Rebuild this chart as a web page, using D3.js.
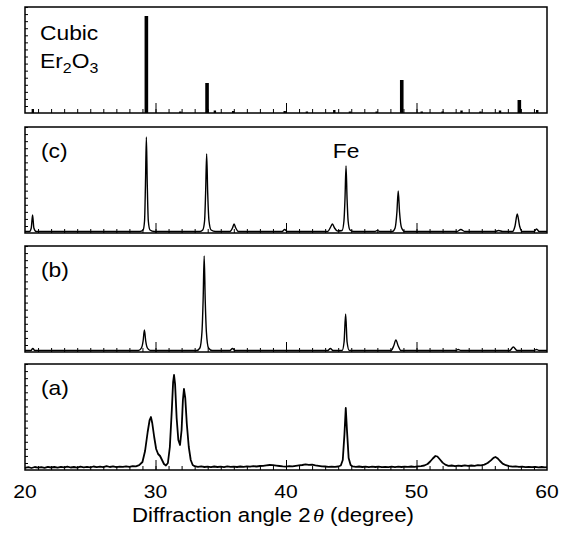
<!DOCTYPE html>
<html>
<head>
<meta charset="utf-8">
<script src="https://cdn.jsdelivr.net/npm/d3@7"></script>
<style>
  body { margin: 0; background: #fff; }
  svg { display: block; }
  text { font-family: "Liberation Sans", Arial, sans-serif; fill: #000; }
</style>
</head>
<body>
<svg id="chart" width="561" height="542"></svg>
<script>
// ---------------- data ----------------
const xTickLabels = [20, 30, 40, 50, 60];
const panelNames = ["Er2O3", "(c)", "(b)", "(a)"];

// Cubic Er2O3 reference sticks: [2theta, intensity]
const er2o3Sticks = [
  [20.6, 4], [29.3, 97], [31.9, 1.5], [33.95, 30], [34.55, 2.5], [35.95, 2],
  [39.9, 2], [41.6, 1.5], [43.7, 3], [44.9, 1.5], [46.95, 1.5], [48.87, 33],
  [50.4, 1.5], [52.0, 1.5], [53.45, 2.5], [54.9, 1.5], [56.4, 2.5], [57.88, 13],
  [59.25, 3]
];

// Pattern (c)
const curveC = [
  [20.0, 1.5], [20.35, 1.5], [20.48, 5], [20.58, 18], [20.68, 5], [20.85, 1.5],
  [28.8, 1.5], [29.05, 3], [29.16, 12], [29.23, 48], [29.3, 96], [29.37, 48], [29.45, 12], [29.58, 3], [29.9, 1.5],
  [33.4, 1.5], [33.62, 3], [33.76, 12], [33.84, 40], [33.92, 79], [34.0, 40], [34.1, 12], [34.26, 3], [34.6, 1.5],
  [35.7, 1.5], [35.9, 5], [36.02, 9], [36.15, 5], [36.35, 1.5],
  [39.7, 1.5], [39.9, 3.5], [40.1, 1.5],
  [43.2, 1.5], [43.42, 6], [43.56, 9], [43.72, 5], [43.95, 2], [44.3, 2.5],
  [44.44, 12], [44.52, 34], [44.6, 67], [44.68, 34], [44.76, 12], [44.9, 3], [45.2, 1.5],
  [46.8, 1.5], [47.0, 2.5], [47.2, 1.5],
  [48.15, 1.5], [48.36, 5], [48.5, 21], [48.6, 42], [48.7, 21], [48.86, 5], [49.1, 1.5],
  [53.1, 1.5], [53.4, 3.5], [53.7, 1.5],
  [56.0, 1.5], [56.3, 2.5], [56.6, 1.5],
  [57.35, 1.5], [57.55, 7], [57.72, 19], [57.9, 7], [58.1, 1.5],
  [59.0, 1.5], [59.2, 4], [59.4, 1.5], [60.0, 1.5]
];

// Pattern (b)
const curveB = [
  [20.0, 1.5], [20.45, 1.5], [20.6, 3.5], [20.75, 1.5],
  [28.7, 1.5], [28.92, 4], [29.05, 11], [29.15, 22], [29.25, 11], [29.38, 4], [29.6, 1.5],
  [33.15, 1.5], [33.4, 4], [33.56, 20], [33.65, 52], [33.73, 96], [33.81, 52], [33.9, 20], [34.06, 4], [34.35, 1.5],
  [35.7, 1.5], [35.9, 3.5], [36.1, 1.5],
  [43.2, 1.5], [43.4, 3.5], [43.6, 1.5],
  [44.3, 1.5], [44.45, 10], [44.57, 38], [44.68, 10], [44.85, 1.5],
  [48.05, 1.5], [48.25, 6], [48.42, 12], [48.6, 6], [48.8, 1.5],
  [53.0, 1.5], [53.2, 2.5], [53.4, 1.5],
  [57.15, 1.5], [57.42, 5], [57.7, 1.5],
  [59.0, 1.5], [59.2, 2.5], [59.4, 1.5], [60.0, 1.5]
];

// Pattern (a)
const curveA = [
  [20.0, 2.2], [20.25, 2.8], [20.5, 2.0], [20.75, 3.0], [21.0, 2.4], [21.25, 2.9], [21.5, 2.1], [21.75, 3.2],
  [22.0, 2.5], [22.25, 3.0], [22.5, 2.3], [22.75, 3.1], [23.0, 2.6], [23.25, 3.4], [23.5, 2.5], [23.75, 3.0],
  [24.0, 2.4], [24.25, 3.3], [24.5, 2.7], [24.75, 3.2], [25.0, 2.6], [25.25, 3.5], [25.5, 2.8], [25.75, 3.3],
  [26.0, 2.9], [26.25, 3.8], [26.5, 3.0], [26.75, 3.6], [27.0, 2.9], [27.25, 3.4], [27.5, 3.1], [27.75, 3.6],
  [28.0, 3.2], [28.25, 3.9], [28.5, 3.6], [28.75, 4.8], [29.0, 8], [29.2, 19], [29.4, 38], [29.55, 50],
  [29.65, 53], [29.75, 47], [29.9, 33], [30.05, 21], [30.2, 16], [30.35, 14], [30.5, 10], [30.65, 6],
  [30.8, 4.5], [30.95, 7], [31.1, 23], [31.25, 60], [31.35, 88], [31.42, 95], [31.5, 86], [31.62, 52],
  [31.75, 30], [31.88, 25], [32.0, 40], [32.1, 70], [32.18, 81], [32.28, 72], [32.4, 46], [32.55, 23],
  [32.7, 10], [32.85, 5], [33.0, 3.8], [33.25, 3.2], [33.5, 3.6], [33.75, 3.0],
  [34.0, 3.4], [34.25, 2.8], [34.5, 3.5], [34.75, 3.0], [35.0, 3.3], [35.25, 2.9], [35.5, 3.6], [35.75, 3.1],
  [36.0, 3.4], [36.25, 3.0], [36.5, 3.5], [36.75, 3.2], [37.0, 3.6], [37.25, 3.3], [37.5, 3.8], [37.75, 3.5],
  [38.0, 4.0], [38.25, 4.2], [38.5, 4.6], [38.75, 5.0], [39.0, 4.8], [39.25, 4.4], [39.5, 4.0], [39.75, 3.6],
  [40.0, 3.4], [40.25, 3.8], [40.5, 3.6], [40.75, 4.2], [41.0, 4.6], [41.25, 5.0], [41.5, 5.6], [41.75, 5.2],
  [42.0, 5.4], [42.25, 4.6], [42.5, 4.2], [42.75, 3.6], [43.0, 3.5], [43.25, 3.2], [43.5, 3.4], [43.75, 3.1],
  [44.0, 3.5], [44.2, 4.5], [44.35, 10], [44.48, 36], [44.58, 62], [44.68, 38], [44.8, 12], [44.95, 5],
  [45.1, 3.6], [45.35, 3.2], [45.6, 3.5], [45.85, 3.0], [46.1, 3.4], [46.35, 2.9], [46.6, 3.3], [46.85, 3.0],
  [47.1, 3.4], [47.35, 2.8], [47.6, 3.2], [47.85, 2.9], [48.1, 3.3], [48.35, 2.9], [48.6, 3.4], [48.85, 3.0],
  [49.1, 3.3], [49.35, 3.1], [49.6, 3.5], [49.85, 3.2], [50.1, 3.6], [50.35, 3.9], [50.6, 4.5], [50.85, 6.0],
  [51.05, 8.5], [51.25, 11.5], [51.45, 14], [51.6, 13.5], [51.8, 10.5], [52.0, 7.4], [52.2, 5.4], [52.45, 4.2],
  [52.7, 4.5], [52.95, 3.9], [53.2, 4.4], [53.45, 4.0], [53.7, 4.6], [53.95, 4.1], [54.2, 4.5], [54.45, 4.2],
  [54.7, 4.8], [54.95, 4.6], [55.2, 5.4], [55.45, 7.0], [55.7, 9.6], [55.9, 12.2], [56.05, 13], [56.2, 11.8],
  [56.4, 9.0], [56.6, 6.4], [56.85, 4.8], [57.1, 3.8], [57.35, 3.4], [57.6, 3.6], [57.85, 3.1], [58.1, 3.4],
  [58.35, 2.9], [58.6, 3.2], [58.85, 2.8], [59.1, 3.1], [59.35, 2.6], [59.6, 3.0], [59.85, 2.6], [60.0, 2.8]
];

// ---------------- layout ----------------
const svg = d3.select("#chart");
const left = 25, right = 547;
const panelTops = [7, 127, 246, 364];
const panelH = 106;
const SX = 1.14; // horizontal stretch of glyphs seen in the reference

const x = d3.scaleLinear().domain([20, 60]).range([left, right]);

function addText(parent, tx, ty, size, anchor) {
  return parent.append("text")
    .attr("transform", `translate(${tx},${ty}) scale(${SX},1)`)
    .attr("font-size", size)
    .attr("text-anchor", anchor || "start");
}

function drawFrame(g, y) {
  const minor = d3.axisBottom(x).tickValues(d3.range(21, 60, 1)).tickSize(-4).tickFormat("");
  g.append("g").attr("transform", `translate(0,${panelH})`).call(minor)
    .call(s => s.select(".domain").remove())
    .selectAll("line").attr("stroke", "#000").attr("stroke-width", 1);
  const major = d3.axisBottom(x).tickValues([30, 40, 50]).tickSize(-10).tickFormat("");
  g.append("g").attr("transform", `translate(0,${panelH})`).call(major)
    .call(s => s.select(".domain").remove())
    .selectAll("line").attr("stroke", "#000").attr("stroke-width", 1);
  const yl = d3.axisLeft(y).tickValues(d3.range(7, 106, 7.07)).tickSize(-3).tickFormat("");
  g.append("g").attr("transform", `translate(${left},0)`).call(yl)
    .call(s => s.select(".domain").remove())
    .selectAll("line").attr("stroke", "#000").attr("stroke-width", 1);
  g.append("rect").attr("x", left).attr("y", 0).attr("width", right - left).attr("height", panelH)
    .attr("fill", "none").attr("stroke", "#000").attr("stroke-width", 1.5);
}

const curves = [null, curveC, curveB, curveA];

panelTops.forEach((top, i) => {
  const g = svg.append("g").attr("transform", `translate(0,${top})`);
  const y = d3.scaleLinear().domain([0, panelH]).range([panelH, 0]);
  if (i === 0) {
    g.append("g").selectAll("line").data(er2o3Sticks).join("line")
      .attr("x1", d => x(d[0])).attr("x2", d => x(d[0]))
      .attr("y1", y(0)).attr("y2", d => y(d[1]))
      .attr("stroke", "#000")
      .attr("stroke-width", d => d[1] > 8 ? 3.6 : 2.4);
  } else {
    const line = d3.line().x(d => x(d[0])).y(d => y(d[1]))
      .curve(i === 3 ? d3.curveLinear : d3.curveMonotoneX);
    g.append("path").datum(curves[i]).attr("d", line)
      .attr("fill", "none").attr("stroke", "#000")
      .attr("stroke-width", i === 3 ? 1.8 : 1.4).attr("stroke-linejoin", "round");
  }
  drawFrame(g, y);
  if (i === 0) {
    addText(g, 40, 33, 20).text("Cubic");
    const t = addText(g, 40, 61, 20);
    t.append("tspan").text("Er");
    t.append("tspan").attr("font-size", 14).attr("dy", 5).text("2");
    t.append("tspan").attr("dy", -5).text("O");
    t.append("tspan").attr("font-size", 14).attr("dy", 5).text("3");
  } else {
    addText(g, 41, 31, 20).text(panelNames[i]);
  }
  if (i === 1) {
    addText(g, x(44.6), 31, 20, "middle").text("Fe");
  }
});

// x tick labels
xTickLabels.forEach(d => {
  addText(svg, x(d), 498, 18.5, "middle").text(d);
});

// x axis title
const title = addText(svg, 273, 522, 19.5, "middle");
title.append("tspan").text("Diffraction angle 2");
title.append("tspan").attr("font-family", "'Liberation Serif', 'DejaVu Serif', serif")
  .attr("font-style", "italic").attr("dx", 2).text("θ");
title.append("tspan").text(" (degree)");
</script>
</body>
</html>
